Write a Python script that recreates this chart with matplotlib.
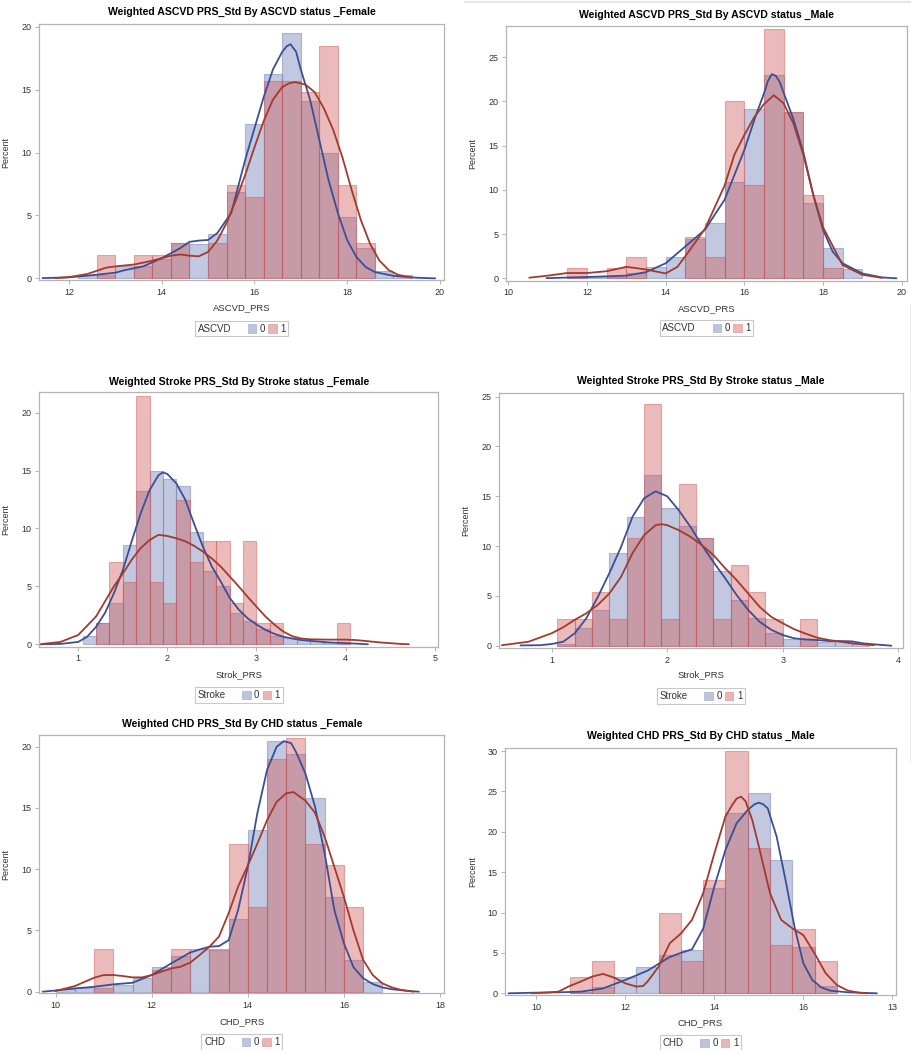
import matplotlib
matplotlib.use("Agg")
import matplotlib.pyplot as plt
import numpy as np
from matplotlib.patches import Rectangle
from matplotlib.lines import Line2D
from matplotlib.offsetbox import AnchoredOffsetbox, HPacker, TextArea, DrawingArea

plt.rcParams['font.family'] = ['Liberation Sans', 'DejaVu Sans']

# ---- histogram data (percent per bin), group 0 = blue, group 1 = red ----
ascvd_f_edges = np.arange(12.2, 19.41, 0.4)
ascvd_f_0 = [0.3, 0.3, 0.95, 1.0, 1.5, 2.8, 2.75, 3.5, 6.9, 12.3, 16.2, 19.5, 14.1, 10.0, 4.9, 2.4, 0.6, 0.3]
ascvd_f_1 = [0, 1.85, 0, 1.85, 1.85, 2.8, 0, 2.8, 7.4, 6.5, 15.7, 15.7, 14.8, 18.5, 7.4, 2.8, 0, 0]

ascvd_m_edges = np.arange(11.5, 19.01, 0.5)
ascvd_m_0 = [0.1, 0.1, 0.2, 0.6, 1.3, 2.4, 4.4, 6.3, 10.9, 19.2, 23.0, 18.8, 8.5, 3.4, 1.1]
ascvd_m_1 = [1.2, 0, 1.2, 2.4, 0, 0, 4.7, 2.4, 20.0, 10.6, 28.2, 18.8, 9.4, 1.2, 0]

stroke_f_edges = np.arange(1.05, 4.051, 0.15)
stroke_f_0 = [0.7, 1.85, 3.6, 8.6, 13.2, 15.0, 14.3, 13.7, 9.7, 6.3, 5.0, 2.7, 2.0, 1.3, 0.7, 0.5, 0.35, 0.3, 0.1, 0.05]
stroke_f_1 = [0, 1.8, 7.1, 5.35, 21.4, 5.35, 3.6, 12.5, 7.1, 8.9, 8.9, 3.6, 8.9, 1.8, 1.8, 0, 0, 0, 0, 1.8]

stroke_m_edges = np.arange(1.05, 3.751, 0.15)
stroke_m_0 = [0.2, 1.8, 3.6, 9.3, 12.9, 17.1, 13.8, 12.0, 10.8, 7.5, 4.6, 2.8, 1.3, 0.7, 0.6, 0.4, 0.4, 0.15]
stroke_m_1 = [2.7, 2.7, 5.4, 2.7, 10.8, 24.3, 2.7, 16.2, 10.8, 2.7, 8.1, 5.4, 2.7, 0, 2.7, 0, 0, 0]

chd_f_edges = np.arange(10.0, 16.81, 0.4)
chd_f_0 = [0.2, 0.3, 0.3, 0.55, 1.15, 2.0, 2.9, 3.5, 3.4, 5.9, 13.2, 20.5, 19.4, 15.8, 7.7, 2.6, 0.8]
chd_f_1 = [0, 0, 3.5, 0, 0, 1.75, 3.5, 0, 3.5, 12.1, 6.9, 19.0, 20.7, 12.1, 10.35, 6.9, 0]

chd_m_edges = np.arange(10.75, 16.76, 0.5)
chd_m_0 = [0.2, 0.8, 2.0, 3.2, 4.8, 5.4, 13.0, 22.3, 24.8, 16.5, 5.7, 0.9]
chd_m_1 = [2, 4, 0, 0, 10, 4, 14, 30, 18, 6, 8, 4]

# ---- density curves ----
ascvd_f_k0x = [11.43, 12.0, 12.5, 13.0, 13.2, 13.6, 14.0, 14.2, 14.4, 14.6, 14.8, 15.0, 15.2, 15.5, 15.8, 16.0,
               16.2, 16.4, 16.6, 16.7, 16.78, 16.9, 17.0, 17.2, 17.4, 17.6, 17.8, 18.0, 18.2, 18.4, 18.6, 19.0,
               19.5, 19.9]
ascvd_f_k0y = [0.02, 0.08, 0.25, 0.45, 0.65, 0.95, 1.6, 2.0, 2.4, 2.9, 3.0, 3.05, 3.6, 5.2, 9.4, 11.9,
               14.4, 16.6, 18.0, 18.45, 18.6, 18.0, 16.6, 14.2, 11.0, 7.8, 5.2, 3.05, 1.7, 0.9, 0.5, 0.2,
               0.05, 0.0]
ascvd_f_k1x = [11.7, 12.0, 12.4, 12.6, 12.8, 13.0, 13.4, 13.8, 14.0, 14.2, 14.4, 14.6, 14.8, 15.0, 15.2, 15.4,
               15.6, 15.8, 16.0, 16.2, 16.4, 16.6, 16.75, 16.88, 17.1, 17.3, 17.5, 17.7, 17.9, 18.1, 18.3, 18.5,
               18.7, 18.9, 19.1, 19.4]
ascvd_f_k1y = [0.02, 0.1, 0.35, 0.6, 0.85, 0.95, 1.1, 1.4, 1.6, 1.8, 1.9, 1.8, 1.75, 2.1, 3.0, 4.4,
               6.2, 8.2, 10.4, 12.5, 14.2, 15.2, 15.5, 15.6, 15.4, 14.8, 13.5, 11.8, 9.6, 7.0, 4.6, 2.7,
               1.4, 0.65, 0.28, 0.06]

ascvd_m_k0x = [10.97, 12.0, 13.0, 13.5, 14.0, 14.5, 15.0, 15.5, 16.0, 16.3, 16.5, 16.6, 16.7, 16.8, 16.9,
               17.0, 17.25, 17.5, 17.75, 18.0, 18.25, 18.5, 19.0, 19.5, 19.87]
ascvd_m_k0y = [0.02, 0.15, 0.3, 0.7, 1.7, 3.6, 5.5, 8.9, 14.5, 18.5, 20.9, 22.3, 23.1, 22.9, 22.2,
               21.0, 18.0, 14.3, 9.5, 5.5, 3.0, 1.7, 0.55, 0.1, 0.0]
ascvd_m_k1x = [10.53, 11.0, 11.5, 12.0, 12.5, 13.0, 13.5, 14.0, 14.3, 14.5, 15.0, 15.5, 15.75, 16.0, 16.25,
               16.5, 16.75, 17.0, 17.25, 17.5, 17.75, 18.0, 18.5, 19.0, 19.5]
ascvd_m_k1y = [0.07, 0.3, 0.6, 0.6, 0.8, 1.3, 1.0, 0.55, 1.3, 2.5, 5.6, 10.5, 14.0, 16.2, 18.2,
               19.7, 20.7, 19.8, 17.5, 14.0, 9.5, 5.8, 1.5, 0.4, 0.05]

stroke_f_k0x = [0.57, 0.8, 1.0, 1.1, 1.2, 1.3, 1.4, 1.5, 1.6, 1.7, 1.8, 1.9, 1.95, 2.0, 2.1, 2.2, 2.3, 2.4,
                2.5, 2.6, 2.7, 2.8, 2.9, 3.0, 3.1, 3.2, 3.3, 3.4, 3.5, 3.6, 3.8, 4.0, 4.25]
stroke_f_k0y = [0.0, 0.03, 0.2, 0.65, 1.5, 2.7, 4.4, 6.4, 8.9, 11.3, 13.3, 14.6, 14.85, 14.7, 13.9, 12.5, 10.4, 8.4,
                6.7, 5.4, 4.0, 3.0, 2.25, 1.7, 1.25, 0.9, 0.65, 0.5, 0.37, 0.3, 0.17, 0.1, 0.0]
stroke_f_k1x = [0.59, 0.8, 1.0, 1.2, 1.4, 1.5, 1.6, 1.7, 1.8, 1.9, 2.0, 2.1, 2.2, 2.3, 2.4, 2.5, 2.6, 2.7,
                2.8, 2.9, 3.0, 3.1, 3.2, 3.3, 3.4, 3.5, 3.6, 3.8, 4.0, 4.1, 4.2, 4.4, 4.6, 4.71]
stroke_f_k1y = [0.02, 0.2, 0.8, 2.4, 5.0, 6.1, 7.3, 8.3, 9.0, 9.45, 9.35, 9.15, 8.9, 8.5, 8.0, 7.4, 6.7, 5.85,
                5.0, 4.1, 3.25, 2.4, 1.7, 1.1, 0.7, 0.5, 0.43, 0.4, 0.4, 0.37, 0.3, 0.15, 0.04, 0.0]

stroke_m_k0x = [0.73, 0.9, 1.0, 1.1, 1.2, 1.3, 1.4, 1.5, 1.6, 1.7, 1.8, 1.9, 2.0, 2.1, 2.2, 2.3, 2.4, 2.5,
                2.6, 2.7, 2.8, 2.9, 3.0, 3.1, 3.2, 3.3, 3.4, 3.5, 3.6, 3.7, 3.8, 3.94]
stroke_m_k0y = [0.03, 0.05, 0.17, 0.4, 1.25, 2.75, 4.9, 7.3, 9.9, 12.95, 14.8, 15.5, 15.0, 13.6, 11.95, 10.1, 8.4, 6.8,
                5.1, 3.6, 2.4, 1.6, 1.07, 0.74, 0.63, 0.57, 0.47, 0.47, 0.43, 0.23, 0.13, 0.0]
stroke_m_k1x = [0.57, 0.8, 1.0, 1.1, 1.2, 1.3, 1.4, 1.5, 1.6, 1.7, 1.8, 1.9, 1.95, 2.0, 2.1, 2.2, 2.3, 2.4,
                2.5, 2.6, 2.7, 2.8, 2.9, 3.0, 3.1, 3.2, 3.3, 3.4, 3.5, 3.6, 3.7, 3.79]
stroke_m_k1y = [0.05, 0.4, 1.25, 1.85, 2.6, 3.25, 4.1, 5.25, 6.9, 9.3, 11.1, 12.1, 12.2, 12.1, 11.6, 10.95, 10.1, 9.1,
                7.8, 6.6, 5.25, 3.9, 2.9, 2.25, 1.65, 1.2, 0.8, 0.57, 0.4, 0.23, 0.13, 0.05]

chd_f_k0x = [9.73, 10.0, 10.4, 10.8, 11.2, 11.6, 12.0, 12.4, 12.8, 13.0, 13.2, 13.4, 13.6, 13.8, 14.0, 14.2,
             14.4, 14.6, 14.75, 14.9, 15.0, 15.2, 15.4, 15.6, 15.8, 16.0, 16.2, 16.4, 16.6, 16.8, 17.0, 17.3, 17.56]
chd_f_k0y = [0.0, 0.1, 0.27, 0.4, 0.6, 0.73, 1.36, 2.3, 3.2, 3.45, 3.67, 3.73, 4.2, 6.7, 10.2, 14.6,
             18.1, 20.0, 20.46, 20.3, 19.6, 17.8, 15.1, 11.3, 6.7, 3.95, 2.0, 1.1, 0.63, 0.35, 0.2, 0.08, 0.0]
chd_f_k1x = [9.99, 10.4, 10.8, 11.0, 11.2, 11.4, 11.6, 11.8, 12.0, 12.2, 12.4, 12.6, 12.8, 13.0, 13.2, 13.4,
             13.6, 13.8, 14.0, 14.2, 14.4, 14.6, 14.8, 14.95, 15.2, 15.4, 15.6, 15.8, 16.0, 16.2, 16.4, 16.6,
             16.8, 17.0, 17.2, 17.45]
chd_f_k1y = [0.05, 0.46, 1.14, 1.36, 1.36, 1.28, 1.17, 1.17, 1.36, 1.63, 1.9, 2.04, 2.37, 3.0, 3.67, 4.5,
             6.4, 8.6, 10.3, 12.1, 14.0, 15.5, 16.2, 16.3, 15.6, 14.6, 12.65, 10.2, 7.75, 5.0, 2.6, 1.36,
             0.68, 0.35, 0.14, 0.0]

chd_m_k0x = [9.38, 10.0, 10.5, 11.0, 11.5, 12.0, 12.5, 13.0, 13.25, 13.5, 13.75, 14.0, 14.25, 14.5, 14.75,
             14.9, 15.0, 15.1, 15.2, 15.4, 15.6, 15.8, 16.0, 16.2, 16.4, 16.6, 17.0, 17.65]
chd_m_k0y = [0.0, 0.08, 0.12, 0.2, 0.6, 1.65, 2.8, 4.5, 5.0, 5.45, 8.0, 13.2, 17.75, 21.05, 22.7,
             23.4, 23.6, 23.4, 22.9, 19.4, 14.0, 8.25, 3.7, 1.65, 0.74, 0.33, 0.12, 0.0]
chd_m_k1x = [9.9, 10.25, 10.5, 10.75, 11.0, 11.25, 11.5, 11.75, 12.0, 12.25, 12.4, 12.5, 12.75, 13.0, 13.25,
             13.5, 13.75, 14.0, 14.25, 14.4, 14.5, 14.6, 14.7, 14.85, 15.0, 15.25, 15.5, 15.75, 16.0, 16.25,
             16.5, 16.75, 17.0, 17.25, 17.44]
chd_m_k1y = [0.0, 0.1, 0.2, 0.9, 1.45, 2.06, 2.4, 1.94, 1.24, 0.83, 0.9, 1.45, 3.3, 6.2, 7.4,
             9.1, 12.4, 17.3, 21.9, 23.3, 24.1, 24.35, 23.8, 21.5, 18.2, 12.4, 9.1, 8.05, 7.2, 4.95,
             2.5, 1.03, 0.33, 0.08, 0.0]

titles = ["Weighted ASCVD PRS_Std By ASCVD status _Female", "Weighted ASCVD PRS_Std By ASCVD status _Male",
          "Weighted Stroke PRS_Std By Stroke status _Female", "Weighted Stroke PRS_Std By Stroke status _Male",
          "Weighted CHD PRS_Std By CHD status _Female", "Weighted CHD PRS_Std By CHD status _Male"]
xlabels = ["ASCVD_PRS", "ASCVD_PRS", "Strok_PRS", "Strok_PRS", "CHD_PRS", "CHD_PRS"]
groups = ["ASCVD", "ASCVD", "Stroke", "Stroke", "CHD", "CHD"]
xtick_labels_chd_m = ["10", "12", "14", "16", "13"]

hists = [(ascvd_f_edges, ascvd_f_0, ascvd_f_1), (ascvd_m_edges, ascvd_m_0, ascvd_m_1),
         (stroke_f_edges, stroke_f_0, stroke_f_1), (stroke_m_edges, stroke_m_0, stroke_m_1),
         (chd_f_edges, chd_f_0, chd_f_1), (chd_m_edges, chd_m_0, chd_m_1)]
kdes = [((ascvd_f_k0x, ascvd_f_k0y), (ascvd_f_k1x, ascvd_f_k1y)),
        ((ascvd_m_k0x, ascvd_m_k0y), (ascvd_m_k1x, ascvd_m_k1y)),
        ((stroke_f_k0x, stroke_f_k0y), (stroke_f_k1x, stroke_f_k1y)),
        ((stroke_m_k0x, stroke_m_k0y), (stroke_m_k1x, stroke_m_k1y)),
        ((chd_f_k0x, chd_f_k0y), (chd_f_k1x, chd_f_k1y)),
        ((chd_m_k0x, chd_m_k0y), (chd_m_k1x, chd_m_k1y))]

# ---- layout (pixels) ----
W, H = 912, 1050
# left, top, right, bottom of plot frame; xlim; ylim; xticks; yticks
layout = [
    ((39.3, 24, 444, 280), (11.36, 20.09), (-0.13, 20.21), [12, 14, 16, 18, 20], [0, 5, 10, 15, 20]),
    ((506, 25.7, 906.7, 280.7), (9.94, 20.13), (-0.27, 28.57), [10, 12, 14, 16, 18, 20], [0, 5, 10, 15, 20, 25]),
    ((39.3, 392.3, 438.3, 646.7), (0.563, 5.04), (-0.21, 21.76), [1, 2, 3, 4, 5], [0, 5, 10, 15, 20]),
    ((499.3, 392.7, 902.7, 648.3), (0.547, 4.038), (-0.26, 25.4), [1, 2, 3, 4], [0, 5, 10, 15, 20, 25]),
    ((39.3, 735, 444.3, 993.3), (9.66, 18.09), (-0.13, 20.96), [10, 12, 14, 16, 18], [0, 5, 10, 15, 20]),
    ((505, 747.7, 896, 995), (9.30, 18.08), (-0.21, 30.41), [10, 12, 14, 16, 18], [0, 5, 10, 15, 20, 25, 30]),
]
title_y = [12, 15, 382.3, 381, 724.3, 736]
xlabel_y = [308, 308.3, 674.3, 675, 1021.7, 1022.7]
ylabel_x = [6, 472.3, 6, 465.7, 6, 472.3]
legend_y = [328.5, 328, 695, 696, 1042, 1042.7]

blue, red = '#6F7EB3', '#D05B5B'
blue_line, red_line = '#3B4F96', '#A23A2E'
frame_col = '#b4b4b4'
txt_col = '#333333'

fig = plt.figure(figsize=(W / 100, H / 100), dpi=100)


def fx(px):
    return px / W


def fy(py):
    return 1 - py / H


def add_legend(ax, name, cx, cy):
    items = [TextArea(name, textprops=dict(size=7, color=txt_col))]
    items.append(DrawingArea(7, 5))
    for col, lab in [(blue, "0"), (red, "1")]:
        da = DrawingArea(6, 6, 0, 0)
        da.add_artist(Rectangle((0, 0), 6, 6, facecolor=matplotlib.colors.to_rgba(col, 0.45),
                                edgecolor=matplotlib.colors.to_rgba(col, 0.5), lw=0.5))
        items += [da, TextArea(lab, textprops=dict(size=7, color=txt_col))]
    pack = HPacker(children=items, align='center', pad=0, sep=2.5)
    box = AnchoredOffsetbox(loc='center', child=pack, pad=0.2, borderpad=0, frameon=True,
                            bbox_to_anchor=(fx(cx), fy(cy)), bbox_transform=fig.transFigure)
    box.patch.set_edgecolor('#c8c8c8')
    box.patch.set_linewidth(0.8)
    box.patch.set_boxstyle('square', pad=0)
    ax.add_artist(box)


for i in range(6):
    (l, t, r, b), xlim, ylim, xt, yt = layout[i]
    ax = fig.add_axes([fx(l), fy(b), (r - l) / W, (b - t) / H])
    edges, h0, h1 = hists[i]
    width = edges[1] - edges[0]
    for hv, col in [(h0, blue), (h1, red)]:
        hv = np.array(hv, dtype=float)
        m = hv > 0
        ax.bar(edges[:-1][m], hv[m], width=width, align='edge',
               facecolor=matplotlib.colors.to_rgba(col, 0.42),
               edgecolor=matplotlib.colors.to_rgba(col, 0.48), linewidth=0.8)
    (k0x, k0y), (k1x, k1y) = kdes[i]
    ax.plot(k0x, k0y, color=blue_line, lw=1.3, solid_capstyle='round', solid_joinstyle='round')
    ax.plot(k1x, k1y, color=red_line, lw=1.3, solid_capstyle='round', solid_joinstyle='round')

    ax.set_xlim(*xlim)
    ax.set_ylim(*ylim)
    ax.set_xticks(xt)
    ax.set_yticks(yt)
    if i == 5:
        ax.set_xticklabels(xtick_labels_chd_m)
    for sp in ax.spines.values():
        sp.set_color(frame_col)
        sp.set_linewidth(0.9)
    ax.tick_params(length=3, width=0.7, color=frame_col, labelsize=6.5, labelcolor=txt_col, pad=2.5)

    cx = (l + r) / 2
    fig.text(fx(cx), fy(title_y[i]), titles[i], ha='center', va='center',
             fontsize=7.6, fontweight='bold', color='black')
    fig.text(fx(cx), fy(xlabel_y[i]), xlabels[i], ha='center', va='center', fontsize=6.8, color=txt_col)
    fig.text(fx(ylabel_x[i]), fy((t + b) / 2), "Percent", ha='center', va='center', rotation=90,
             fontsize=6.5, color=txt_col)
    add_legend(ax, groups[i], cx, legend_y[i])

# faint screenshot borders
fig.add_artist(Line2D([fx(465), 1.0], [fy(1.7), fy(1.7)], color='#e6e6e6', lw=1.5))
fig.add_artist(Line2D([fx(910.7), fx(910.7)], [fy(305), fy(763)], color='#ececec', lw=1.2))

fig.savefig("out.png", dpi=100)
